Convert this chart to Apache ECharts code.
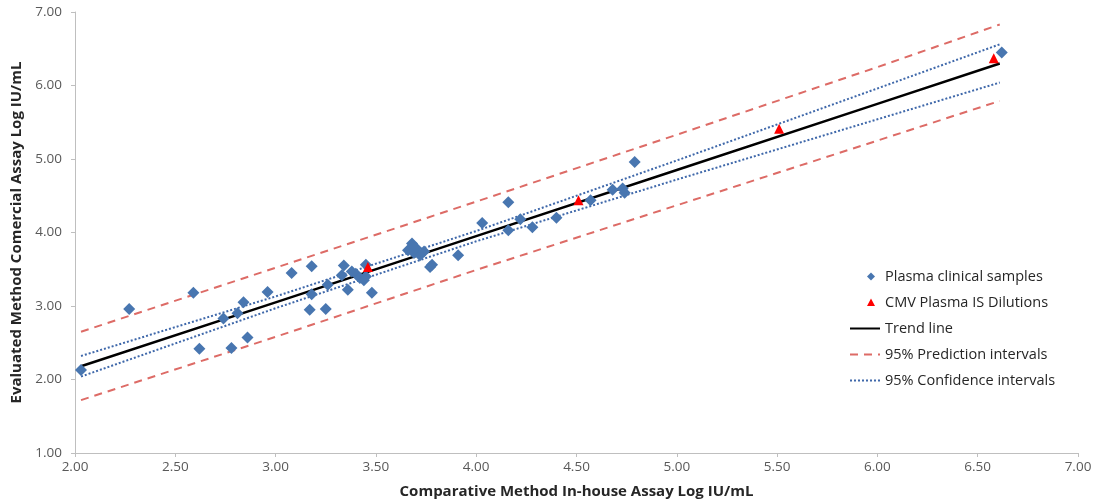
<!DOCTYPE html>
<html>
<head>
  <meta charset="UTF-8">
  <title>Method comparison</title>
  <script src="https://cdn.jsdelivr.net/npm/echarts@6/dist/echarts.min.js"></script>
  <style>
    html, body { margin: 0; padding: 0; background: #fff; }
    #main { width: 1094px; height: 504px; }
  </style>
</head>
<body>
<div id="main"></div>
<script>
  // plasma clinical samples [comparative, evaluated]
  var clinicalSamples = [
    [2.03, 2.13], [2.27, 2.96], [2.59, 3.18], [2.62, 2.42], [2.74, 2.83],
    [2.78, 2.43], [2.81, 2.90], [2.84, 3.05], [2.86, 2.57], [2.96, 3.19],
    [3.08, 3.45], [3.17, 2.95], [3.18, 3.16], [3.18, 3.54], [3.25, 2.96],
    [3.26, 3.29], [3.34, 3.55], [3.33, 3.42], [3.36, 3.22], [3.38, 3.47],
    [3.40, 3.44], [3.42, 3.38], [3.45, 3.56], [3.45, 3.40], [3.44, 3.35],
    [3.48, 3.18], [3.66, 3.76], [3.68, 3.85], [3.70, 3.79], [3.69, 3.72],
    [3.72, 3.69], [3.74, 3.74], [3.78, 3.56], [3.77, 3.53], [3.91, 3.69],
    [4.03, 4.13], [4.16, 4.41], [4.16, 4.03], [4.22, 4.18], [4.28, 4.07],
    [4.40, 4.20], [4.57, 4.44], [4.68, 4.58], [4.73, 4.60], [4.74, 4.54],
    [4.79, 4.96], [6.62, 6.45]
  ];
  // CMV plasma IS dilutions
  var isDilutions = [[3.46, 3.53], [4.51, 4.44], [5.51, 5.41], [6.58, 6.37]];

  // fitted lines at these x positions
  var fitX = [2.03, 3.00, 4.00, 5.00, 6.00, 6.61];
  var trendY = [2.18, 3.05, 3.95, 4.85, 5.75, 6.30];
  var confUpper = [2.32, 3.13, 4.02, 4.98, 5.96, 6.56];
  var confLower = [2.04, 2.97, 3.88, 4.72, 5.54, 6.04];
  var predUpper = [2.65, 3.52, 4.42, 5.33, 6.25, 6.83];
  var predLower = [1.72, 2.58, 3.49, 4.37, 5.25, 5.79];

  var xTicks = ['2.00', '2.50', '3.00', '3.50', '4.00', '4.50', '5.00', '5.50', '6.00', '6.50', '7.00'];
  var yTicks = ['1.00', '2.00', '3.00', '4.00', '5.00', '6.00', '7.00'];

  function pairs(ys) {
    return fitX.map(function (x, i) { return [x, ys[i]]; });
  }

  var font = '"Open Sans", Lato, sans-serif';
  var axisGray = '#bfbfbf';

  // legend icons: small mark inside a 30x14 box (corner dots fix the box size)
  var boxPath = 'path://M0,0 L0.01,0 L0,0.01 Z M30,14 L29.99,14 L30,13.99 Z ';
  var diamondIcon = boxPath + 'M21,3 L25,7 L21,11 L17,7 Z';
  var triangleIcon = boxPath + 'M21,3 L25,10.5 L17,10.5 Z';

  function lineSeries(name, ys, color, type, width) {
    return {
      name: name,
      type: 'line',
      data: pairs(ys),
      symbol: 'none',
      z: 1,
      silent: true,
      lineStyle: { color: color, type: type, width: width },
      itemStyle: { color: color }
    };
  }

  var option = {
    backgroundColor: '#fff',
    animation: false,
    textStyle: { fontFamily: font },
    grid: { left: 75, right: 16, top: 12, bottom: 51, outerBoundsMode: 'none', containLabel: false },
    legend: {
      orient: 'vertical',
      left: 844,
      top: 264,
      itemWidth: 30,
      itemHeight: 14,
      itemGap: 11,
      textStyle: { fontSize: 14.5, color: '#262626', fontFamily: font },
      data: [
        { name: 'Plasma clinical samples', icon: diamondIcon },
        { name: 'CMV Plasma IS Dilutions', icon: triangleIcon },
        { name: 'Trend line', itemStyle: { opacity: 0 } },
        { name: '95% Prediction intervals', itemStyle: { opacity: 0 } },
        { name: '95% Confidence intervals', itemStyle: { opacity: 0 } }
      ]
    },
    xAxis: {
      type: 'value',
      min: 2, max: 7, interval: 0.5,
      name: 'Comparative Method In-house Assay Log IU/mL',
      nameLocation: 'middle',
      nameGap: 31,
      nameTextStyle: { fontSize: 15, fontWeight: 'bold', color: '#262626' },
      axisLine: { show: true, lineStyle: { color: axisGray } },
      axisTick: { show: true, length: 4, lineStyle: { color: axisGray } },
      splitLine: { show: false },
      axisLabel: {
        color: '#595959', fontSize: 13.5, margin: 7,
        formatter: function (v) { return xTicks[Math.round((v - 2) / 0.5)]; }
      }
    },
    yAxis: {
      type: 'value',
      min: 1, max: 7, interval: 1,
      name: 'Evaluated Method Comercial Assay Log IU/mL',
      nameLocation: 'middle',
      nameGap: 50,
      nameTextStyle: { fontSize: 15, fontWeight: 'bold', color: '#262626' },
      axisLine: { show: true, lineStyle: { color: axisGray } },
      axisTick: { show: true, length: 4, lineStyle: { color: axisGray } },
      splitLine: { show: false },
      axisLabel: {
        color: '#595959', fontSize: 13.5, margin: 13,
        formatter: function (v) { return yTicks[Math.round(v - 1)]; }
      }
    },
    series: [
      lineSeries('95% Prediction intervals', predUpper, '#dd6b66', [8, 6], 2),
      lineSeries('95% Prediction intervals', predLower, '#dd6b66', [8, 6], 2),
      lineSeries('95% Confidence intervals', confUpper, '#3f68aa', [2, 2], 2),
      lineSeries('95% Confidence intervals', confLower, '#3f68aa', [2, 2], 2),
      lineSeries('Trend line', trendY, '#000000', 'solid', 2.5),
      {
        name: 'Plasma clinical samples',
        type: 'scatter',
        symbol: 'diamond',
        symbolSize: 12,
        z: 3,
        itemStyle: { color: '#4876b0', opacity: 1 },
        data: clinicalSamples
      },
      {
        name: 'CMV Plasma IS Dilutions',
        type: 'scatter',
        symbol: 'triangle',
        symbolSize: 10,
        z: 4,
        itemStyle: { color: '#ff0000', opacity: 1 },
        data: isDilutions
      }
    ]
  };

  echarts.init(document.getElementById('main')).setOption(option);
</script>
</body>
</html>
